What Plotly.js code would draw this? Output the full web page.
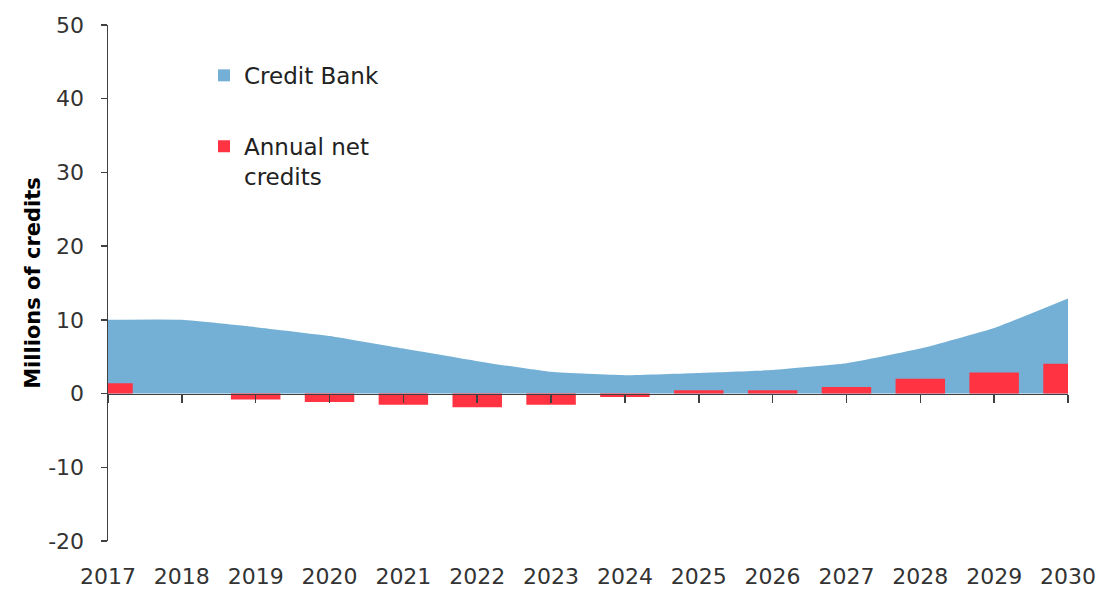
<!DOCTYPE html>
<html>
<head>
<meta charset="utf-8">
<script src="https://cdn.plot.ly/plotly-3.0.1.min.js"></script>
<style>html,body{margin:0;padding:0;background:#fff;}#chart{width:1104px;height:589px;}</style>
</head>
<body>
<div id="chart"></div>
<script>
const years = [2017, 2018, 2019, 2020, 2021, 2022, 2023, 2024, 2025, 2026, 2027, 2028, 2029, 2030];
const yearLabels = years.map(String);
const creditBank = [10.0, 10.0, 9.0, 7.8, 6.1, 4.4, 2.95, 2.5, 2.8, 3.2, 4.1, 6.1, 8.9, 12.9];
const annualNet = [1.4, 0, -0.8, -1.15, -1.5, -1.85, -1.5, -0.45, 0.45, 0.45, 0.9, 2.0, 2.85, 4.05];
const yTicks = [-20, -10, 0, 10, 20, 30, 40, 50];

const BLUE = '#74B0D5';
const RED = '#FF3341';
const FONT = 'DejaVu Sans, sans-serif';

const traces = [
  {
    type: 'scatter', x: years, y: creditBank, mode: 'lines',
    line: {width: 0, shape: 'spline', smoothing: 0.4, color: BLUE},
    fill: 'tozeroy', fillcolor: BLUE, showlegend: false,
    xaxis: 'x', yaxis: 'y', hoverinfo: 'skip'
  },
  {
    type: 'bar', x: [null], y: [null], name: 'Credit Bank',
    marker: {color: BLUE}, legendgroup: 'a',
    xaxis: 'x2', yaxis: 'y2', hoverinfo: 'skip'
  },
  {
    type: 'bar', x: years, y: annualNet, name: 'Annual net<br>credits',
    marker: {color: RED}, width: 0.67, legendgroup: 'b',
    xaxis: 'x2', yaxis: 'y2'
  }
];

const layout = {
  width: 1104, height: 589,
  margin: {l: 108, r: 36, t: 25, b: 48},
  paper_bgcolor: '#fff', plot_bgcolor: 'rgba(0,0,0,0)',
  font: {family: FONT, color: '#333'},
  showlegend: true,
  legend: {
    x: 0.1, y: 0.944, xanchor: 'left', yanchor: 'top',
    font: {family: FONT, size: 23, color: '#222'},
    traceorder: 'grouped', tracegroupgap: 38, valign: 'top',
    bgcolor: 'rgba(0,0,0,0)', borderwidth: 0
  },
  xaxis: {
    type: 'linear', range: [years[0], years[years.length - 1]],
    tickvals: years, ticktext: yearLabels,
    showline: false, ticks: '', showgrid: false, zeroline: false,
    tickfont: {family: FONT, size: 22, color: '#333'},
    ticklabelstandoff: 20
  },
  xaxis2: {
    type: 'linear', overlaying: 'x', anchor: 'free', position: 20 / 70,
    range: [years[0], years[years.length - 1]],
    tickvals: years, showticklabels: false,
    showline: true, linecolor: '#404040', linewidth: 1.5,
    ticks: 'outside', ticklen: 8, tickwidth: 1.5, tickcolor: '#404040',
    showgrid: false, zeroline: false, layer: 'above traces'
  },
  yaxis: {
    range: [-20, 50], tickvals: yTicks, ticktext: yTicks.map(String),
    showline: true, linecolor: '#404040', linewidth: 1.5,
    ticks: 'outside', ticklen: 6, tickwidth: 1.5, tickcolor: '#404040',
    showgrid: false, zeroline: false,
    tickfont: {family: FONT, size: 22, color: '#333'},
    ticklabelstandoff: 12,
    title: {text: 'Millions of credits', font: {family: FONT, size: 21, color: '#000', weight: 'bold'}, standoff: 2}
  },
  yaxis2: {
    range: [-20, 50], overlaying: 'y', visible: false, showgrid: false, zeroline: false
  }
};

Plotly.newPlot('chart', traces, layout, {displayModeBar: false, staticPlot: true});
</script>
</body>
</html>
